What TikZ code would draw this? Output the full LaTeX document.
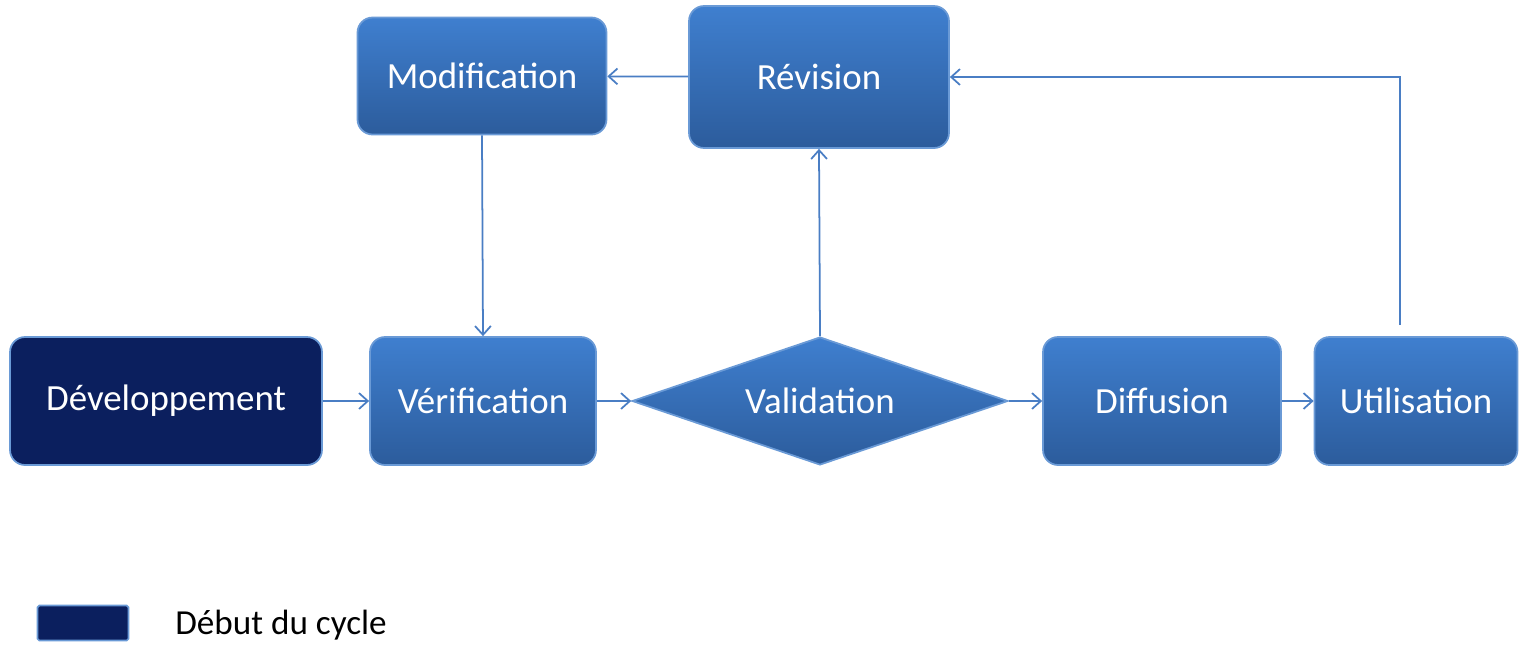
\documentclass[tikz,border=0pt]{standalone}
\usepackage{fontspec}
\setmainfont{Carlito}
\usetikzlibrary{shapes.geometric,arrows.meta}
\definecolor{btop}{HTML}{3F7FCF}
\definecolor{bbot}{HTML}{2C5C9C}
\definecolor{bedge}{HTML}{6A9AD6}
\definecolor{dark}{HTML}{0B1F5E}
\definecolor{arr}{HTML}{4A7EC4}
\begin{document}
\begin{tikzpicture}[x=0.02cm,y=-0.02cm,
  box/.style={rounded corners=0.3cm, top color=btop, bottom color=bbot, draw=bedge, line width=1pt, text=white, font=\fontsize{21}{24}\selectfont, inner sep=0},
  ar/.style={draw=arr, line width=1pt, -{Straight Barb[length=5pt,width=9pt]}}]
\useasboundingbox (0,0) rectangle (1528,657);
\node[box, minimum width=4.98cm, minimum height=2.34cm] (mod) at (482,76) {Modification};
\node[box, minimum width=5.2cm, minimum height=2.84cm] (rev) at (819,77) {Révision};
\node[box, top color=dark, bottom color=dark, minimum width=6.24cm, minimum height=2.56cm] (dev) at (166,401) {Développement};
\node[box, minimum width=4.52cm, minimum height=2.56cm] (ver) at (483,401) {Vérification};
\node[diamond, aspect=2.94, inner sep=0, minimum width=7.52cm, minimum height=2.56cm, top color=btop, bottom color=bbot, draw=bedge, line width=1pt, text=white, font=\fontsize{21}{24}\selectfont] (val) at (820,401) {};
\node[text=white, font=\fontsize{21}{24}\selectfont] at (820,401) {Validation};
\node[box, minimum width=4.76cm, minimum height=2.56cm] (dif) at (1162,401) {Diffusion};
\node[box, minimum width=4.06cm, minimum height=2.56cm] (uti) at (1416,401) {Utilisation};
\node[rounded corners=1pt, fill=dark, draw=bedge, line width=1pt, minimum width=1.82cm, minimum height=0.7cm, inner sep=0] (leg) at (83,623) {};
\node[anchor=west, font=\fontsize{20}{24}\selectfont, inner sep=0] (legt) at (175,625) {Début du cycle};
\draw[ar] (dev) -- (ver);
\draw[ar] (ver) -- (val);
\draw[ar] (val) -- (dif);
\draw[ar] (dif) -- (uti);
\draw[ar] (val.north) -- (rev.south);
\draw[ar] (rev) -- (mod);
\draw[ar] (mod.south) -- (ver.north);
\coordinate (u) at (1400,325);
\draw[ar] (u) |- (rev.east);
\end{tikzpicture}
\end{document}
